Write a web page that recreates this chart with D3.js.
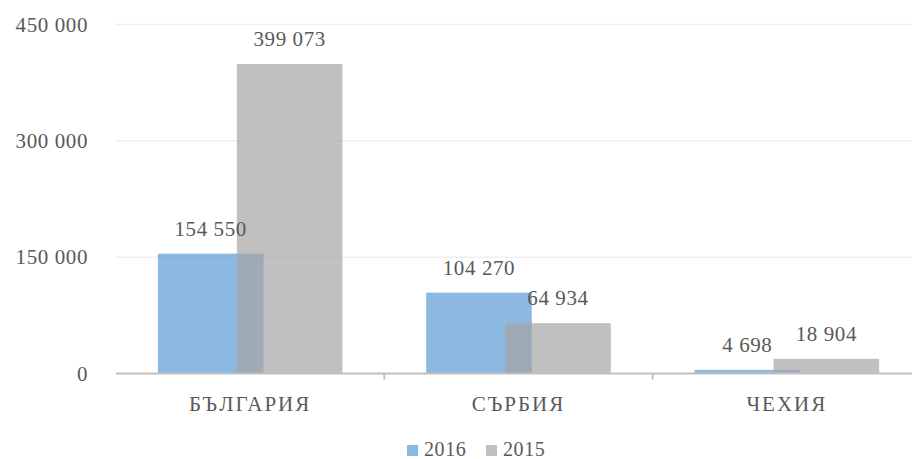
<!DOCTYPE html>
<html>
<head>
<meta charset="utf-8">
<script src="https://d3js.org/d3.v7.min.js"></script>
<style>
  body { margin: 0; background: #fff; }
  text { font-family: "Liberation Serif", "DejaVu Serif", serif; fill: #595959; }
</style>
</head>
<body>
<script>
// данни
var countries = ["БЪЛГАРИЯ", "СЪРБИЯ", "ЧЕХИЯ"];
var series = ["2016", "2015"];
var values2016 = [154550, 104270, 4698];
var values2015 = [399073, 64934, 18904];
var yTicks = [0, 150000, 300000, 450000];
var colors = ["#5B9BD5", "#A5A5A5"];

var width = 912, height = 459;
var plotLeft = 116, plotRight = 921, plotTop = 24.5, plotBottom = 373.5;

var svg = d3.select("body").append("svg")
  .attr("width", width).attr("height", height);

var x = d3.scaleBand().domain(countries).range([plotLeft, plotRight]);
var y = d3.scaleLinear().domain([0, 450000]).range([plotBottom, plotTop]);

var fmt = function(v) { return d3.format(",")(v).replace(/,/g, " "); };

// решетка
svg.append("g").selectAll("line").data(yTicks.slice(1)).enter().append("line")
  .attr("x1", plotLeft).attr("x2", width)
  .attr("y1", function(d){ return y(d); }).attr("y2", function(d){ return y(d); })
  .attr("stroke", "#efefef").attr("stroke-width", 1.5);

// ос y
var yAxis = svg.append("g").attr("transform", "translate(" + 88 + ",0)")
  .call(d3.axisLeft(y).tickValues(yTicks).tickSize(0).tickPadding(0).tickFormat(fmt));
yAxis.select(".domain").remove();
yAxis.selectAll("text").style("font-size", "21px").attr("fill", "#595959")
  .style("font-family", "Liberation Serif, serif").style("letter-spacing", "0.6px");

var barW = 105.6, offset = 79;
var groupW = barW + offset;
var data = [values2016, values2015];

data.forEach(function(vals, si) {
  var g = svg.append("g");
  g.selectAll("rect").data(vals).enter().append("rect")
    .attr("x", function(d, i){ return x(countries[i]) + (x.bandwidth() - groupW) / 2 + si * offset; })
    .attr("y", function(d){ return y(d); })
    .attr("width", barW)
    .attr("height", function(d){ return plotBottom - y(d); })
    .attr("fill", colors[si]).attr("fill-opacity", 0.7);
});

// надписи над стълбовете
data.forEach(function(vals, si) {
  svg.append("g").selectAll("text").data(vals).enter().append("text")
    .attr("x", function(d, i){ return x(countries[i]) + (x.bandwidth() - groupW) / 2 + si * offset + barW / 2; })
    .attr("y", function(d){ return y(d) - 18; })
    .attr("text-anchor", "middle")
    .style("font-size", "21px")
    .style("letter-spacing", "0.6px")
    .text(fmt);
});

// ос x
svg.append("line").attr("x1", plotLeft).attr("x2", width)
  .attr("y1", plotBottom).attr("y2", plotBottom)
  .attr("stroke", "#bfbfbf").attr("stroke-width", 2);
svg.append("g").selectAll("line").data(countries.slice(1)).enter().append("line")
  .attr("x1", function(d){ return x(d); }).attr("x2", function(d){ return x(d); })
  .attr("y1", plotBottom).attr("y2", plotBottom + 6)
  .attr("stroke", "#bfbfbf").attr("stroke-width", 2);
svg.append("g").selectAll("text").data(countries).enter().append("text")
  .attr("x", function(d){ return x(d) + x.bandwidth() / 2; })
  .attr("y", 411)
  .attr("text-anchor", "middle")
  .style("font-size", "21px")
  .style("letter-spacing", "2px")
  .text(function(d){ return d; });

// легенда
var legendX = [407, 486];
series.forEach(function(s, i) {
  svg.append("rect").attr("x", legendX[i]).attr("y", 445).attr("width", 11).attr("height", 11)
    .attr("fill", colors[i]).attr("fill-opacity", 0.7);
  svg.append("text").attr("x", legendX[i] + 17).attr("y", 456)
    .style("font-size", "20px").style("letter-spacing", "0.6px").text(s);
});
</script>
</body>
</html>
